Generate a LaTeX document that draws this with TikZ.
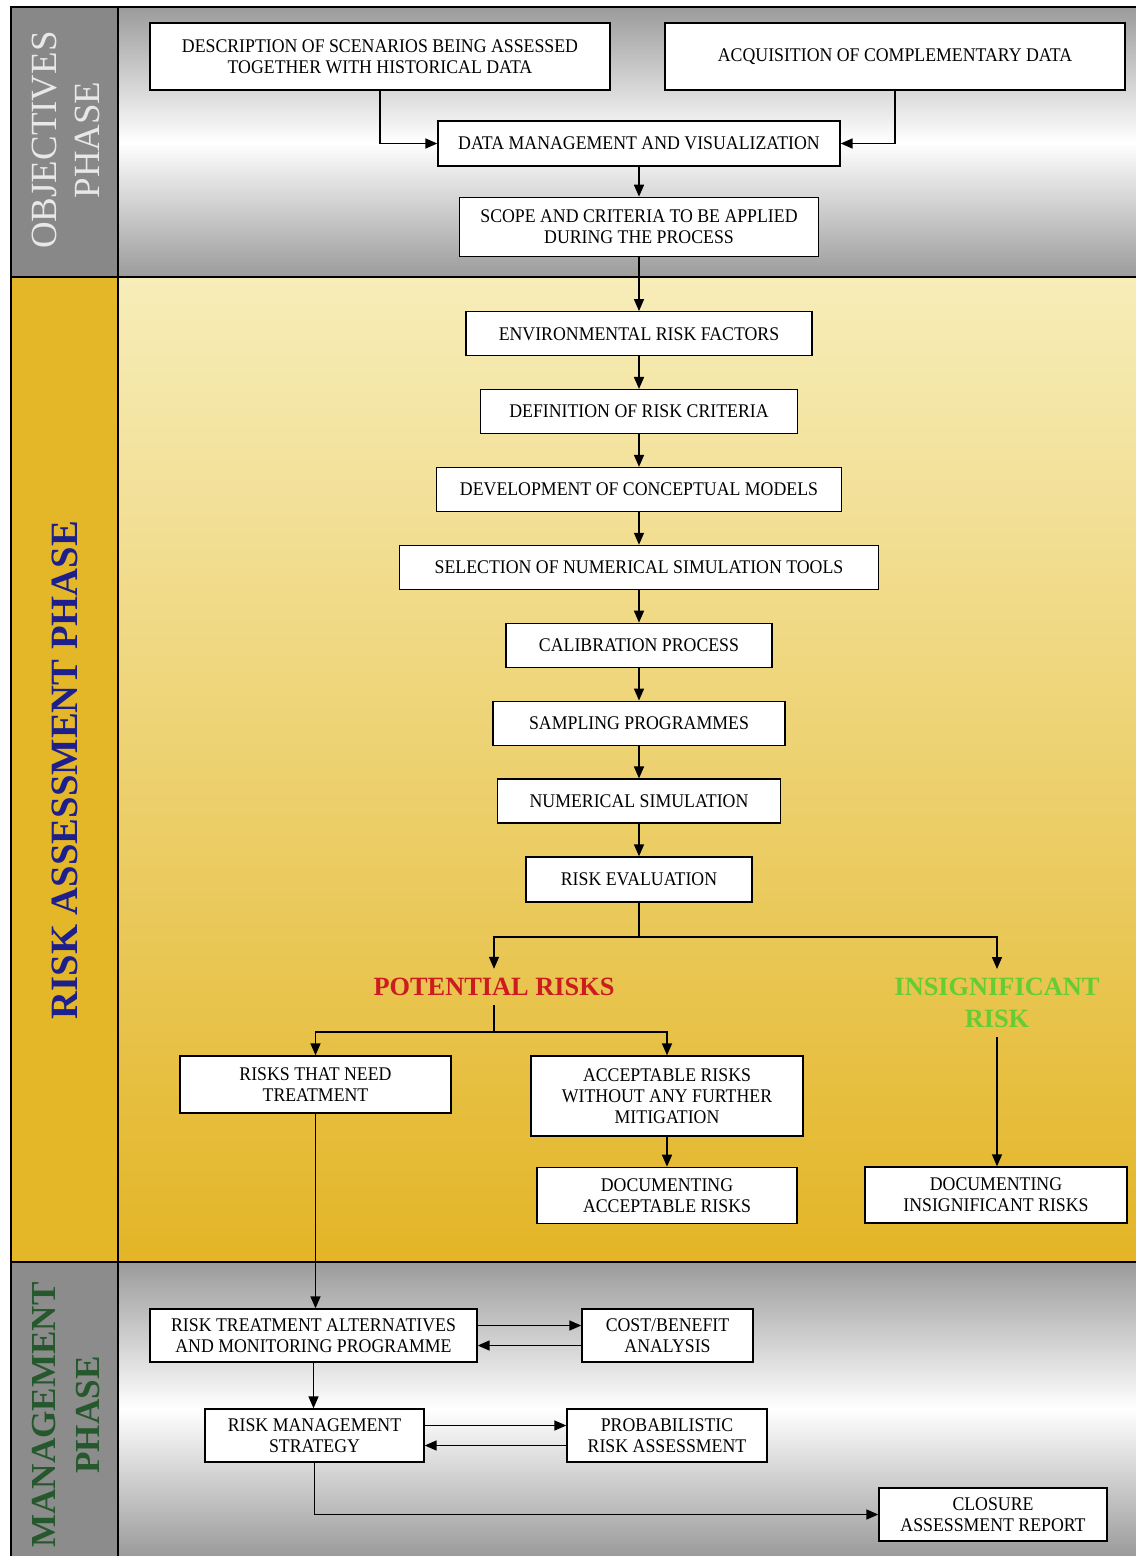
\documentclass[tikz,border=0pt]{standalone}
\usepackage{fontspec}
\setmainfont{Liberation Serif}
\newfontfamily\boxfont[FakeStretch=0.92]{Liberation Serif}
\usepackage{tikz}
\usetikzlibrary{arrows.meta,positioning,calc}

\definecolor{objgray}{RGB}{155,155,155}
\definecolor{objside}{RGB}{136,136,136}
\definecolor{riskpale}{RGB}{247,237,185}
\definecolor{riskgold}{RGB}{227,181,38}
\definecolor{riskside}{RGB}{227,183,39}
\definecolor{mgmtgray}{RGB}{155,155,155}
\definecolor{mgmtside}{RGB}{140,140,140}
\definecolor{phasewhite}{RGB}{232,232,232}
\definecolor{phaseblue}{RGB}{30,30,140}
\definecolor{phasegreen}{RGB}{38,88,45}
\definecolor{potred}{RGB}{204,28,32}
\definecolor{insgreen}{RGB}{102,204,51}

\begin{document}
\begin{tikzpicture}[x=0.02cm, y=0.02cm,
      box/.style={rectangle, draw, line width=0.8pt, fill=white, minimum height=0.88cm,
        inner sep=2pt, align=center, font=\boxfont\fontsize{11}{12}\selectfont},
      verdict/.style={align=center, inner sep=1.8mm, font=\bfseries\fontsize{15}{18}\selectfont},
      phase/.style={rotate=90, align=center, inner sep=0pt},
      arr/.style={line width=0.9pt, -{Triangle[length=2.4mm, width=2mm]}},
      link/.style={line width=0.9pt}
    ]
    \useasboundingbox (0,0) rectangle (1136,-1556);

    % --- phase bands ---
    \shade[top color=objgray, bottom color=objgray, middle color=white] (118,-7) rectangle (1136,-277);
    \fill[objside] (11,-7) rectangle (118,-277);
    \shade[top color=riskpale, bottom color=riskgold] (118,-277) rectangle (1136,-1262);
    \fill[riskside] (11,-277) rectangle (118,-1262);
    \shade[top color=mgmtgray, bottom color=mgmtgray, middle color=white] (118,-1262) rectangle (1136,-1556);
    \fill[mgmtside] (11,-1262) rectangle (118,-1556);
    \draw[line width=0.9pt] (1136,-7) -- (11,-7) -- (11,-1556);
    \draw[line width=0.9pt] (118,-7) -- (118,-1556);
    \draw[line width=0.9pt] (11,-277) -- (1136,-277);
    \draw[line width=0.9pt] (11,-1262) -- (1136,-1262);

    \node[phase, text=phasewhite, font=\fontsize{21}{25}\selectfont] (objlabel) at (66,-140) {OBJECTIVES\\PHASE};
    \node[phase, text=phaseblue, font=\bfseries\fontsize{22}{26}\selectfont] (risklabel) at (65,-770) {RISK ASSESSMENT PHASE};
    \node[phase, text=phasegreen, font=\bfseries\fontsize{20}{25}\selectfont] (mgmtlabel) at (66,-1415) {MANAGEMENT\\PHASE};

    % --- objectives phase ---
    \node[box, minimum width=9.2cm, minimum height=1.34cm] (desc) at (380,-56.5)
      {DESCRIPTION OF SCENARIOS BEING ASSESSED\\TOGETHER WITH HISTORICAL DATA};
    \node[box, minimum width=9.2cm, minimum height=1.34cm] (acq) at (895,-56.5)
      {ACQUISITION OF COMPLEMENTARY DATA};
    \node[box, minimum width=8.04cm, minimum height=0.9cm] (datamgmt) at (639,-143.5)
      {DATA MANAGEMENT AND VISUALIZATION};
    \node[box, minimum width=7.18cm, minimum height=1.18cm, below=0.6cm of datamgmt] (scope)
      {SCOPE AND CRITERIA TO BE APPLIED\\DURING THE PROCESS};

    \draw[arr] (desc.south) |- (datamgmt.west);
    \draw[arr] (acq.south) |- (datamgmt.east);
    \draw[arr] (datamgmt) -- (scope);

    % --- risk assessment phase ---
    \node[box, minimum width=6.92cm, below=1.08cm of scope] (envrisk) {ENVIRONMENTAL RISK FACTORS};
    \node[box, minimum width=6.34cm, below=0.65cm of envrisk] (riskcrit) {DEFINITION OF RISK CRITERIA};
    \node[box, minimum width=8.1cm, below=0.65cm of riskcrit] (concept) {DEVELOPMENT OF CONCEPTUAL MODELS};
    \node[box, minimum width=9.58cm, below=0.65cm of concept] (simtools) {SELECTION OF NUMERICAL SIMULATION TOOLS};
    \node[box, minimum width=5.32cm, below=0.65cm of simtools] (calib) {CALIBRATION PROCESS};
    \node[box, minimum width=5.84cm, below=0.65cm of calib] (sampling) {SAMPLING PROGRAMMES};
    \node[box, minimum width=5.66cm, below=0.65cm of sampling] (numsim) {NUMERICAL SIMULATION};
    \node[box, minimum width=4.52cm, minimum height=0.9cm, below=0.65cm of numsim] (riskeval) {RISK EVALUATION};

    \draw[arr] (scope) -- (envrisk);
    \draw[arr] (envrisk) -- (riskcrit);
    \draw[arr] (riskcrit) -- (concept);
    \draw[arr] (concept) -- (simtools);
    \draw[arr] (simtools) -- (calib);
    \draw[arr] (calib) -- (sampling);
    \draw[arr] (sampling) -- (numsim);
    \draw[arr] (numsim) -- (riskeval);

    \node[verdict, text=potred] (potential) at (494,-987) {POTENTIAL RISKS};
    \node[verdict, text=insgreen] (insig) at (997,-1003) {INSIGNIFICANT\\RISK};

    \coordinate (split) at ($(riskeval.south)+(0,-0.68cm)$);
    \draw[link] (riskeval.south) -- (split);
    \draw[arr] (split) -| (potential.north);
    \draw[arr] (split) -| (insig.north);

    \node[box, minimum width=5.42cm, minimum height=1.14cm] (treat) at (315.5,-1084.5)
      {RISKS THAT NEED\\TREATMENT};
    \node[box, minimum width=5.44cm, minimum height=1.6cm] (accept) at (667,-1096)
      {ACCEPTABLE RISKS\\WITHOUT ANY FURTHER\\MITIGATION};
    \node[box, minimum width=5.2cm, minimum height=1.12cm, below=0.6cm of accept] (docacc)
      {DOCUMENTING\\ACCEPTABLE RISKS};
    \node[box, minimum width=5.24cm, minimum height=1.12cm] (docins) at (996,-1195)
      {DOCUMENTING\\INSIGNIFICANT RISKS};

    \coordinate (psplit) at ($(potential.south)+(0,-0.54cm)$);
    \draw[link] (potential.south) -- (psplit);
    \draw[arr] (psplit) -| (treat.north);
    \draw[arr] (psplit) -| (accept.north);
    \draw[arr] (accept) -- (docacc);
    \draw[arr] (insig.south) -- (insig.south |- docins.north);

    % --- management phase ---
    \node[box, minimum width=6.54cm, minimum height=1.06cm] (treatalt) at (313.5,-1335.5)
      {RISK TREATMENT ALTERNATIVES\\AND MONITORING PROGRAMME};
    \node[box, minimum width=3.42cm, minimum height=1.06cm] (costben) at (667.5,-1335.5)
      {COST/BENEFIT\\ANALYSIS};
    \node[box, minimum width=4.38cm, minimum height=1.06cm] (strategy) at (314.5,-1435.5)
      {RISK MANAGEMENT\\STRATEGY};
    \node[box, minimum width=4cm, minimum height=1.06cm] (probrisk) at (667,-1435.5)
      {PROBABILISTIC\\RISK ASSESSMENT};
    \node[box, minimum width=4.56cm, minimum height=1.06cm] (closure) at (993,-1514.5)
      {CLOSURE\\ASSESSMENT REPORT};

    \draw[arr] (treat.south) -- (treat.south |- treatalt.north);
    \draw[arr] ([yshift=2mm]treatalt.east) -- ([yshift=2mm]costben.west);
    \draw[arr] ([yshift=-2mm]costben.west) -- ([yshift=-2mm]treatalt.east);
    \draw[arr] (treatalt.south) -- (treatalt.south |- strategy.north);
    \draw[arr] ([yshift=2mm]strategy.east) -- ([yshift=2mm]probrisk.west);
    \draw[arr] ([yshift=-2mm]probrisk.west) -- ([yshift=-2mm]strategy.east);
    \draw[arr] (strategy.south) |- (closure.west);
  \end{tikzpicture}
\end{document}
